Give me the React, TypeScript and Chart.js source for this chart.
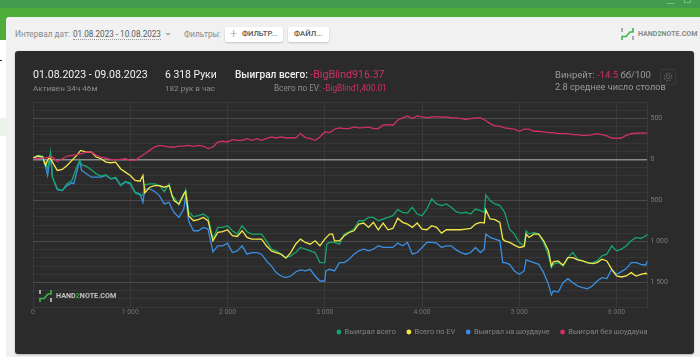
import React, { useEffect, useRef } from "react";
import { Chart, registerables } from "chart.js";

Chart.register(...registerables);

const seriesNames = ["Выиграл всего", "Всего по EV", "Выиграл на шоудауне", "Выиграл без шоудауна"];
const seriesColors = ["#17a56c", "#f3e84a", "#3a8fe2", "#d0306a"];

const wonTotal: [number, number][] = [
  [0,16],[50,49],[100,41],[130,-53],[150,-114],[180,90],[200,-217],[250,-359],[300,-380],[350,-298],[400,-257],[450,-94],[480,-12],[500,-65],[550,-86],[600,-127],[650,-176],[700,-204],[750,-188],[800,-237],[850,-217],[900,-310],[950,-270],[1000,-286],[1050,-409],[1100,-433],[1130,-441],[1150,-310],[1200,-298],[1250,-298],[1300,-319],[1350,-392],[1400,-298],[1430,-449],[1450,-462],[1500,-556],[1550,-441],[1570,-368],[1600,-637],[1650,-699],[1700,-686],[1750,-666],[1800,-707],[1850,-972],[1900,-829],[1950,-829],[2000,-809],[2050,-870],[2100,-911],
  [2150,-809],[2200,-882],[2250,-911],[2300,-911],[2350,-911],[2400,-993],[2450,-1095],[2500,-1115],[2550,-1156],[2600,-1197],[2650,-1176],[2700,-1136],[2750,-1074],[2800,-1095],[2850,-1115],[2900,-1136],[2950,-1258],[3000,-1258],[3020,-1034],[3050,-1013],[3100,-1013],[3150,-1034],[3200,-911],[3250,-882],[3300,-850],[3350,-748],[3400,-748],[3450,-707],[3500,-707],[3550,-748],[3600,-727],[3650,-707],[3700,-686],[3750,-613],[3800,-645],[3850,-654],[3900,-584],[3950,-666],[4000,-686],[4050,-605],[4100,-482],[4150,-543],[4200,-564],[4250,-543],
  [4300,-584],[4350,-637],[4400,-654],[4450,-645],[4500,-666],[4550,-605],[4600,-625],[4640,-645],[4655,-433],[4700,-502],[4750,-543],[4800,-564],[4850,-645],[4900,-850],[4950,-911],[5000,-1013],[5050,-1054],[5070,-870],[5100,-911],[5150,-891],[5200,-911],[5250,-1013],[5300,-1176],[5330,-1319],[5350,-1279],[5400,-1258],[5450,-1299],[5500,-1197],[5550,-1136],[5600,-1217],[5650,-1238],[5700,-1258],[5750,-1266],[5800,-1238],[5850,-1176],[5900,-1156],[5950,-1054],[6000,-1115],[6050,-1095],[6100,-1054],[6150,-993],[6200,-952],[6250,-964],[6300,-931],[6318,-911],
];

const evTotal: [number, number][] = [
  [0,16],[50,41],[100,29],[130,-74],[150,-12],[170,29],[200,-33],[250,-135],[300,-123],[350,-74],[400,-12],[450,49],[490,110],[550,90],[600,90],[650,29],[700,8],[750,-33],[800,-41],[850,-33],[900,-114],[950,-155],[1000,-196],[1050,-257],[1100,-266],[1130,-196],[1150,-409],[1200,-339],[1250,-319],[1300,-319],[1350,-339],[1400,-319],[1430,-441],[1450,-502],[1500,-543],[1550,-421],[1570,-392],[1600,-686],[1650,-748],[1700,-735],[1750,-707],[1800,-748],[1850,-993],[1900,-891],[1950,-882],[2000,-858],[2050,-931],[2100,-940],
  [2150,-870],[2200,-952],[2250,-972],[2300,-972],[2350,-972],[2400,-1054],[2450,-1115],[2500,-1136],[2550,-1156],[2600,-1205],[2650,-1136],[2700,-1034],[2750,-972],[2800,-1013],[2850,-1034],[2900,-993],[2950,-1054],[3000,-972],[3050,-911],[3080,-911],[3100,-993],[3150,-993],[3200,-931],[3250,-891],[3300,-870],[3350,-788],[3400,-776],[3450,-829],[3500,-768],[3550,-858],[3600,-776],[3650,-858],[3700,-842],[3750,-719],[3800,-768],[3850,-788],[3900,-829],[3950,-776],[4000,-850],[4050,-858],[4100,-809],[4150,-829],[4200,-899],[4250,-858],
  [4300,-858],[4350,-858],[4400,-858],[4450,-850],[4500,-842],[4550,-788],[4600,-768],[4640,-776],[4655,-613],[4700,-727],[4750,-735],[4800,-768],[4830,-972],[4850,-993],[4900,-1013],[4950,-1046],[5000,-1074],[5050,-1062],[5070,-911],[5100,-952],[5150,-911],[5200,-911],[5250,-993],[5300,-1115],[5330,-1299],[5350,-1250],[5400,-1238],[5450,-1291],[5500,-1197],[5550,-1197],[5600,-1226],[5650,-1238],[5700,-1258],[5750,-1270],[5800,-1258],[5850,-1217],[5900,-1238],[5950,-1340],[6000,-1422],[6050,-1434],[6100,-1422],[6150,-1381],[6200,-1422],[6250,-1401],[6300,-1389],[6318,-1401],
];

const wonShowdown: [number, number][] = [
  [0,16],[50,41],[100,8],[130,-94],[150,-196],[180,49],[200,-217],[250,-368],[300,-380],[350,-319],[400,-286],[420,-298],[450,-155],[480,-12],[500,-135],[550,-176],[600,-217],[650,-217],[700,-217],[750,-196],[800,-237],[850,-229],[900,-319],[950,-278],[1000,-298],[1050,-400],[1100,-421],[1130,-523],[1150,-359],[1200,-359],[1250,-392],[1300,-441],[1350,-543],[1400,-523],[1430,-605],[1450,-645],[1500,-707],[1550,-605],[1570,-441],[1600,-748],[1650,-870],[1700,-870],[1750,-829],[1800,-850],[1850,-1127],[1900,-1054],[1950,-1054],[2000,-1021],[2050,-1136],[2100,-1115],
  [2150,-1054],[2200,-1156],[2250,-1136],[2300,-1136],[2350,-1156],[2400,-1238],[2450,-1299],[2500,-1381],[2550,-1422],[2600,-1442],[2650,-1422],[2700,-1373],[2750,-1348],[2800,-1360],[2850,-1340],[2900,-1422],[2950,-1483],[3000,-1483],[3010,-1360],[3050,-1340],[3100,-1360],[3150,-1258],[3200,-1258],[3250,-1217],[3300,-1156],[3350,-1115],[3400,-1095],[3450,-1115],[3500,-1095],[3550,-1054],[3600,-1074],[3650,-1074],[3700,-1074],[3750,-1021],[3800,-1054],[3850,-1013],[3900,-1156],[3950,-1136],[4000,-1074],[4050,-1013],[4100,-1013],[4150,-1021],[4200,-1074],[4250,-1054],
  [4300,-1054],[4350,-1103],[4400,-1136],[4450,-1156],[4500,-1136],[4550,-1074],[4600,-1136],[4640,-1095],[4655,-911],[4700,-952],[4750,-972],[4800,-993],[4830,-1258],[4850,-1258],[4900,-1279],[4950,-1360],[5000,-1401],[5050,-1360],[5070,-1226],[5100,-1238],[5150,-1258],[5200,-1279],[5250,-1381],[5300,-1524],[5330,-1654],[5350,-1605],[5400,-1618],[5450,-1503],[5500,-1454],[5550,-1503],[5600,-1544],[5650,-1565],[5700,-1577],[5750,-1544],[5800,-1483],[5850,-1442],[5900,-1454],[5950,-1340],[6000,-1401],[6050,-1368],[6100,-1332],[6150,-1258],[6200,-1258],[6250,-1279],[6300,-1291],[6318,-1238],
];

const wonNoShowdown: [number, number][] = [
  [0,8],[100,16],[200,29],[250,-25],[300,8],[350,41],[400,49],[450,57],[500,69],[550,90],[600,90],[650,49],[700,29],[750,16],[800,0],[850,-4],[900,0],[950,8],[1000,-12],[1050,-12],[1100,29],[1150,69],[1200,110],[1250,151],[1300,172],[1350,163],[1400,151],[1450,151],[1500,163],[1550,163],[1600,172],[1650,159],[1700,172],[1750,163],[1800,131],[1850,151],[1900,212],[1950,221],[2000,212],[2050,241],[2100,233],
  [2150,233],[2200,253],[2250,233],[2300,253],[2350,233],[2400,253],[2450,274],[2500,261],[2550,274],[2600,261],[2650,266],[2700,261],[2750,315],[2800,266],[2850,253],[2900,233],[2950,274],[3000,335],[3050,327],[3100,368],[3150,384],[3200,376],[3250,376],[3300,396],[3350,384],[3400,388],[3450,396],[3500,376],[3550,376],[3600,417],[3650,425],[3700,417],[3750,478],[3800,506],[3850,531],[3900,498],[3950,531],[4000,519],[4050,506],[4100,519],[4150,519],[4200,515],[4250,519],
  [4300,506],[4350,506],[4400,498],[4450,490],[4500,498],[4550,506],[4600,506],[4650,478],[4700,437],[4750,409],[4800,404],[4850,384],[4900,376],[4950,368],[5000,343],[5050,368],[5100,368],[5150,343],[5200,343],[5250,335],[5300,327],[5350,327],[5400,315],[5450,315],[5500,315],[5550,302],[5600,302],[5650,294],[5700,294],[5750,302],[5800,315],[5850,302],[5900,286],[5950,261],[6000,257],[6050,261],[6100,294],[6150,315],[6200,319],[6318,323],
];

const xMax = 6318;
const xTicks = [0, 1000, 2000, 3000, 4000, 5000, 6000];
const yMin = -1800;
const yMax = 700;
const yTicks = [700, 600, 500, 400, 300, 200, 100, 0, -100, -200, -300, -400, -500, -600, -700, -800, -900, -1000, -1100, -1200, -1300, -1400, -1500, -1600, -1700, -1800];
const yLabelStep = 500;

const fmt = (v: number) => String(Math.abs(v)).replace(/\B(?=(\d{3})+$)/g, " ");
const FONT = "Roboto, sans-serif";

const box = (l: number, t: number, w: number, h: number, bg: string, extra: React.CSSProperties = {}): React.CSSProperties => ({
  position: "absolute", left: l, top: t, width: w, height: h, background: bg, ...extra,
});
const text = (l: number, t: number, size: number, color: string, extra: React.CSSProperties = {}): React.CSSProperties => ({
  position: "absolute", left: l, top: t, fontSize: size, color, lineHeight: "14px", whiteSpace: "nowrap", ...extra,
});

function HMark({ x, y, bar }: { x: number; y: number; bar: string }) {
  return (
    <svg style={{ position: "absolute", left: x, top: y }} width="14" height="14" viewBox="0 0 14 14">
      <path d="M1 1V5M12 9V13" stroke={bar} strokeWidth="1.6" fill="none" />
      <path d="M1 13V9.5H5L9 5H12V1" stroke="#3fb54a" strokeWidth="1.6" fill="none" />
    </svg>
  );
}

const legendShift = {
  id: "legendShift",
  afterLayout: (c: any) => {
    if (c.legend) c.legend.right = c.chartArea.right + 11;
  },
};

export default function App() {
  const ref = useRef<HTMLCanvasElement>(null);
  useEffect(() => {
    if (!ref.current) return;
    const rows = [wonTotal, evTotal, wonShowdown, wonNoShowdown];
    const orders = [2, 1, 3, 0];
    const chart = new Chart(ref.current, {
      type: "line",
      plugins: [legendShift],
      data: {
        datasets: rows.map((r, i) => ({
          label: seriesNames[i],
          data: r.map(([x, y]) => ({ x, y })),
          borderColor: seriesColors[i],
          backgroundColor: seriesColors[i],
          borderWidth: 1.3,
          pointRadius: 0,
          pointStyle: "circle",
          tension: 0,
          order: orders[i],
        })),
      },
      options: {
        animation: false,
        responsive: false,
        layout: { padding: { left: 18, top: 51, right: 22.5, bottom: 8.3 } },
        plugins: {
          tooltip: { enabled: false },
          legend: {
            position: "bottom",
            align: "end",
            labels: {
              usePointStyle: true,
              boxWidth: 4,
              boxHeight: 2.5,
              padding: 11,
              color: "#858585",
              font: { family: FONT, size: 7.4 },
              sort: (a: any, b: any) => a.datasetIndex - b.datasetIndex,
            },
          },
        },
        scales: {
          x: {
            type: "linear",
            min: 0,
            max: xMax,
            afterBuildTicks: (s: any) => { s.ticks = xTicks.map((value) => ({ value })); },
            afterFit: (s: any) => { s.height = 10.3; },
            border: { display: false },
            grid: { color: "#3a3a3a", lineWidth: 1, drawTicks: false },
            ticks: {
              autoSkip: false,
              maxRotation: 0,
              padding: 1,
              color: "#747474",
              font: { family: FONT, size: 6.8 },
              callback: (v: any) => fmt(Number(v)),
            },
          },
          y: {
            type: "linear",
            position: "right",
            min: yMin,
            max: yMax,
            afterBuildTicks: (s: any) => { s.ticks = yTicks.map((value) => ({ value })); },
            afterFit: (s: any) => { s.width = 24; },
            border: { color: "#3a3a3a" },
            grid: {
              drawTicks: false,
              color: (c: any) => (c.tick?.value === 0 ? "#8c8c8c" : c.tick?.value % yLabelStep === 0 ? "#4a4a4a" : "#363636"),
              lineWidth: (c: any) => (c.tick?.value === 0 ? 1.5 : 1),
            },
            ticks: {
              autoSkip: false,
              padding: 3,
              color: "#7c7c7c",
              font: { family: FONT, size: 7 },
              callback: (v: any) => (Number(v) % yLabelStep === 0 ? fmt(Number(v)) : ""),
            },
          },
        },
      },
    } as any);
    return () => chart.destroy();
  }, []);

  return (
    <div style={{ position: "fixed", left: 0, top: 0, width: 700, height: 357, overflow: "hidden", background: "#fff", fontFamily: FONT }}>
      <div style={box(0, 0, 700, 8, "#419c50")} />
      <div style={box(0, 8, 700, 32, "#4fae39")} />
      <div style={box(0, 118, 6, 18, "#e9f5ea")} />
      <div style={box(0, 60, 2, 1, "#222")} />
      <div style={box(6, 17, 694, 340, "#f1f1f1", { borderTopLeftRadius: 3 })} />
      <div style={box(667, 3, 7, 1, "#7dbb85")} />
      <div style={box(684, 0, 7, 3, "transparent", { border: "1px solid #7dbb85", borderTop: "none", boxSizing: "border-box" })} />

      <div style={text(15, 27, 8.3, "#8a8a8a")}>Интервал дат:</div>
      <div style={text(73, 27, 8.15, "#5a5a5a", { borderBottom: "1px dotted #999", height: 12, lineHeight: "14px" })}>01.08.2023 - 10.08.2023</div>
      <div style={{ position: "absolute", left: 165, top: 33, width: 0, height: 0, borderLeft: "3px solid transparent", borderRight: "3px solid transparent", borderTop: "3px solid #b5b5b5" }} />
      <div style={text(184, 27, 8.2, "#8a8a8a")}>Фильтры:</div>
      <div style={box(225, 27, 58, 15, "#fff", { borderRadius: 2, boxShadow: "0 1px 2px rgba(0,0,0,.2)" })} />
      <div style={text(230, 27, 13, "#9a9a9a", { fontWeight: 300 })}>+</div>
      <div style={text(242, 27, 7.6, "#555", { fontWeight: 500 })}>ФИЛЬТР...</div>
      <div style={box(288, 27, 41, 15, "#fff", { borderRadius: 2, boxShadow: "0 1px 2px rgba(0,0,0,.2)" })} />
      <div style={text(294, 27, 7.7, "#555", { fontWeight: 500 })}>ФАЙЛ...</div>
      <HMark x={621} y={27} bar="#9a9a9a" />
      <div style={text(638, 27, 7.1, "#8a8a8a", { fontWeight: 700 })}>HAND<span style={{ color: "#3fb54a" }}>2</span>NOTE.COM</div>

      <div style={box(15, 51, 679, 303, "#2b2b2b", { borderRadius: 3, boxShadow: "0 1px 2px rgba(0,0,0,.25)" })} />
      <canvas ref={ref} width={679} height={303} style={{ position: "absolute", left: 15, top: 51, width: 679, height: 303 }} />

      <div style={text(33, 68, 10.6, "#f0f0f0")}>01.08.2023 - 09.08.2023</div>
      <div style={text(33, 81, 8.1, "#8c8c8c")}>Активен 34ч 46м</div>
      <div style={text(165, 68, 10.4, "#f0f0f0")}>6 318 Руки</div>
      <div style={text(165, 81, 8.1, "#8c8c8c")}>182 рук в час</div>
      <div style={text(235, 68, 10.1, "#f0f0f0", { fontWeight: 500 })}>
        Выиграл всего: <span style={{ color: "#d0306a", fontWeight: 400, fontSize: 10.6 }}>-BigBlind916.37</span>
      </div>
      <div style={text(274, 81, 8.2, "#8c8c8c")}>
        Всего по EV: <span style={{ color: "#d0306a" }}>-BigBlind1,400.01</span>
      </div>
      <div style={text(555, 68, 9.5, "#9a9a9a")}>
        Винрейт: <span style={{ color: "#d0306a" }}>-14.5</span> бб/100
      </div>
      <div style={text(555, 80, 9.2, "#9a9a9a")}>2.8 среднее число столов</div>
      <div style={box(660, 69, 16, 16, "transparent", { border: "1px solid #3a3a3a", borderRadius: 2, boxSizing: "border-box" })} />
      <svg style={{ position: "absolute", left: 663, top: 72 }} width="10" height="10" viewBox="0 0 10 10">
        <circle cx="5" cy="5" r="1.7" fill="none" stroke="#5a5a5a" />
        <circle cx="5" cy="5" r="3.8" fill="none" stroke="#5a5a5a" strokeWidth="1.4" strokeDasharray="1.6 1.4" />
      </svg>

      <HMark x={39} y={289} bar="#c8c8c8" />
      <div style={text(56, 289, 7.2, "#c4c4c4", { fontWeight: 700 })}>HAND<span style={{ color: "#3fa84a" }}>2</span>NOTE.COM</div>
    </div>
  );
}
